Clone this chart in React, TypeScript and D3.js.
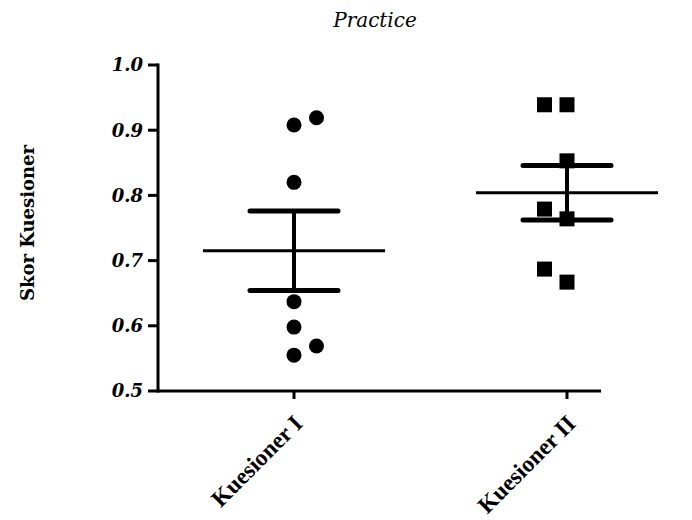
import React from "react";
import * as d3 from "d3";

const categories = ["Kuesioner I", "Kuesioner II"];
const kuesioner1 = [0.908, 0.919, 0.82, 0.637, 0.598, 0.555, 0.569];
const kuesioner2 = [0.939, 0.939, 0.853, 0.779, 0.764, 0.667, 0.687];
const yTicks = [0.5, 0.6, 0.7, 0.8, 0.9, 1.0];
const title = "Practice";
const yTitle = "Skor Kuesioner";

const W = 692;
const H = 520;
const axisLeft = 158;
const axisRight = 601;
const top = 65;
const bottom = 391;

export default function App() {
  const y = d3.scaleLinear().domain([0.5, 1.0]).range([bottom, top]);
  const x = d3.scalePoint<string>().domain(categories).range([294, 567]);
  const groups = [kuesioner1, kuesioner2];
  const marker = 15;
  const jitter = 22.5;

  const placed = groups.map((vals, gi) => {
    const sorted = [...vals].sort((a, b) => a - b);
    const side = gi % 2 === 0 ? 1 : -1;
    const out: { v: number; slot: number }[] = [];
    for (const v of sorted) {
      for (const s of [0, side, -side, 2 * side, -2 * side]) {
        const clash = out.some(
          (p) => p.slot === s && Math.abs(y(p.v) - y(v)) < marker
        );
        if (!clash) {
          out.push({ v, slot: s });
          break;
        }
      }
    }
    return out;
  });

  const stats = groups.map((vals) => {
    const m = d3.mean(vals)!;
    const sd = d3.deviation(vals)!;
    return { mean: m, sem: sd / Math.sqrt(vals.length) };
  });

  return (
    <svg
      width={W}
      height={H}
      style={{ position: "absolute", left: 0, top: 0, background: "#fff" }}
    >
      <rect width={W} height={H} fill="#fff" />
      <text
        x={375}
        y={27}
        textAnchor="middle"
        fontFamily="DejaVu Serif"
        fontStyle="italic"
        fontSize={20}
      >
        {title}
      </text>
      <text
        transform={`translate(34,223) rotate(-90)`}
        textAnchor="middle"
        fontFamily="DejaVu Serif"
        fontWeight="bold"
        fontSize={18}
      >
        {yTitle}
      </text>
      {/* y axis */}
      <line x1={axisLeft} x2={axisLeft} y1={top - 1.5} y2={bottom + 1.5} stroke="#000" strokeWidth={3} />
      {yTicks.map((t) => (
        <g key={t}>
          <line x1={axisLeft - 10} x2={axisLeft} y1={y(t)} y2={y(t)} stroke="#000" strokeWidth={3} />
          <text
            x={axisLeft - 15}
            y={y(t)}
            dy="0.36em"
            textAnchor="end"
            fontFamily="DejaVu Serif"
            fontWeight="bold"
            fontStyle="italic"
            fontSize={18}
          >
            {t.toFixed(1)}
          </text>
        </g>
      ))}
      {/* x axis */}
      <line x1={axisLeft} x2={axisRight} y1={bottom} y2={bottom} stroke="#000" strokeWidth={3} />
      {categories.map((c) => (
        <g key={c}>
          <line x1={x(c)!} x2={x(c)!} y1={bottom} y2={bottom + 8} stroke="#000" strokeWidth={3} />
          <text
            transform={`translate(${x(c)! + 10},${bottom + 34}) rotate(-45)`}
            textAnchor="end"
            fontFamily="Liberation Serif"
            fontWeight="bold"
            fontSize={23.5}
          >
            {c}
          </text>
        </g>
      ))}
      {/* points */}
      {placed.map((pts, gi) =>
        pts.map((p, i) => {
          const cx = x(categories[gi])! + p.slot * jitter;
          const cy = y(p.v);
          return gi === 0 ? (
            <circle key={`${gi}-${i}`} cx={cx} cy={cy} r={7.5} fill="#000" />
          ) : (
            <rect
              key={`${gi}-${i}`}
              x={cx - marker / 2}
              y={cy - marker / 2}
              width={marker}
              height={marker}
              fill="#000"
            />
          );
        })
      )}
      {/* mean and SEM */}
      {stats.map((s, gi) => {
        const cx = x(categories[gi])!;
        return (
          <g key={gi} stroke="#000">
            <line x1={cx - 91} x2={cx + 91} y1={y(s.mean)} y2={y(s.mean)} strokeWidth={3} />
            <line x1={cx} x2={cx} y1={y(s.mean + s.sem)} y2={y(s.mean - s.sem)} strokeWidth={4} />
            <line
              x1={cx - 44}
              x2={cx + 44}
              y1={y(s.mean + s.sem)}
              y2={y(s.mean + s.sem)}
              strokeWidth={5}
              strokeLinecap="round"
            />
            <line
              x1={cx - 44}
              x2={cx + 44}
              y1={y(s.mean - s.sem)}
              y2={y(s.mean - s.sem)}
              strokeWidth={5}
              strokeLinecap="round"
            />
          </g>
        );
      })}
    </svg>
  );
}
